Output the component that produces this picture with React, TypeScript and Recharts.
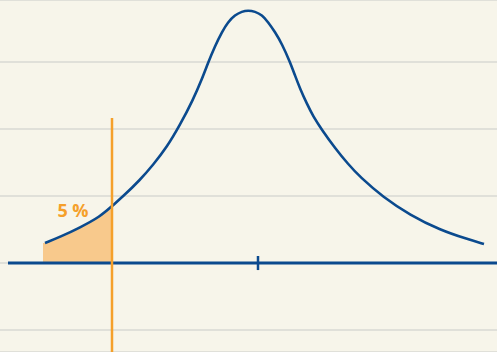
import React from 'react';
import {
  ComposedChart,
  Line,
  Area,
  XAxis,
  YAxis,
  CartesianGrid,
  ReferenceLine,
  ReferenceArea,
} from 'recharts';

// Density curve (x in axis units, y in grid units)
const curveX = [-4.26, -3.96, -3.56, -3.16, -2.92, -2.7, -2.36, -2.1, -1.82, -1.56, -1.3, -1.12, -1.0, -0.86, -0.72, -0.6, -0.46, -0.32, -0.2, -0.06, 0.08, 0.2, 0.34, 0.48, 0.64, 0.74, 0.84, 0.98, 1.1, 1.28, 1.54, 1.8, 2.04, 2.5, 3.04, 3.64, 4.18, 4.52];
const curveY = [0.299, 0.388, 0.53, 0.69, 0.85, 0.993, 1.239, 1.463, 1.731, 2.06, 2.433, 2.746, 2.985, 3.239, 3.448, 3.597, 3.701, 3.754, 3.769, 3.754, 3.701, 3.597, 3.448, 3.269, 3.0, 2.799, 2.604, 2.373, 2.194, 1.985, 1.716, 1.478, 1.284, 0.985, 0.716, 0.493, 0.358, 0.284];

// Shaded 5% tail
const tailX = [-4.3, -4.26, -3.96, -3.56, -3.16, -2.92];
const tailY = [0.299, 0.299, 0.388, 0.53, 0.69, 0.85];

const gridTicks = [-1, 0, 1, 2, 3];
const xDomain: [number, number] = [-5.16, 4.78];
const yDomain: [number, number] = [-1.328, 3.925];
const cutoffX = -2.92;
const cutoffTop = 2.164;
const tailLabel = '5 %';

const curveData = curveX.map((x, i) => ({ x, y: curveY[i] }));
const tailData = tailX.map((x, i) => ({ x, y: tailY[i] }));

const BLUE = '#0b4a8e';
const ORANGE = '#f5a02a';

export default function App() {
  return (
    <div style={{ position: 'absolute', left: 0, top: 0, width: 497, height: 352, background: '#f7f5ea' }}>
      <ComposedChart width={497} height={352} margin={{ top: 0, right: 0, bottom: 0, left: 0 }}>
        <XAxis type="number" dataKey="x" domain={xDomain} hide allowDataOverflow />
        <YAxis type="number" domain={yDomain} ticks={gridTicks} hide allowDataOverflow />
        <CartesianGrid vertical={false} stroke="#d9d9d3" strokeWidth={1.5} />
        <Area
          data={tailData}
          dataKey="y"
          type="basis"
          baseValue={0}
          stroke="none"
          fill="#f8c98c"
          fillOpacity={1}
          dot={false}
          activeDot={false}
          isAnimationActive={false}
        />
        <ReferenceLine
          segment={[{ x: -5, y: 0 }, { x: 4.78, y: 0 }]}
          stroke={BLUE}
          strokeWidth={3}
        />
        <ReferenceLine
          segment={[{ x: 0, y: 0.105 }, { x: 0, y: -0.105 }]}
          stroke={BLUE}
          strokeWidth={2.5}
        />
        <Line
          data={curveData}
          dataKey="y"
          type="basis"
          stroke={BLUE}
          strokeWidth={2.6}
          dot={false}
          activeDot={false}
          isAnimationActive={false}
        />
        <ReferenceLine
          segment={[{ x: cutoffX, y: cutoffTop }, { x: cutoffX, y: -1.328 }]}
          stroke={ORANGE}
          strokeWidth={2.5}
        />
        <ReferenceArea
          x1={-4.1}
          x2={-3.3}
          y1={0.6}
          y2={0.95}
          fill="none"
          fillOpacity={0}
          stroke="none"
          label={{
            value: tailLabel,
            position: 'center',
            fill: ORANGE,
            fontSize: 18,
            fontWeight: 700,
            fontFamily: 'Open Sans, sans-serif',
          }}
        />
      </ComposedChart>
    </div>
  );
}
